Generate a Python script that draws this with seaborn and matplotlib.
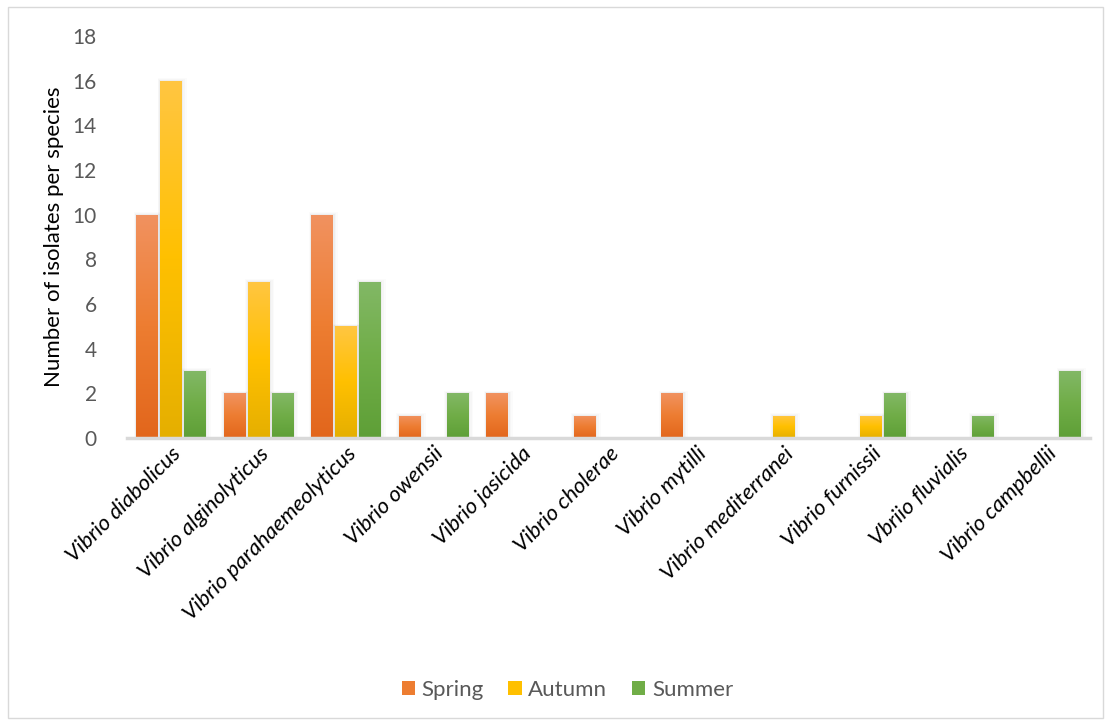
import numpy as np
import pandas as pd
import matplotlib
matplotlib.use("Agg")
import matplotlib.pyplot as plt
import seaborn as sns
from matplotlib.colors import LinearSegmentedColormap
from matplotlib.patches import Rectangle, Patch

species = ["Vibrio diabolicus", "Vibrio alginolyticus", "Vibrio parahaemeolyticus",
           "Vibrio owensii", "Vibrio jasicida", "Vibrio cholerae", "Vibrio mytilli",
           "Vibrio mediterranei", "Vibrio furnissii", "Vbriio fluvialis", "Vibrio campbellii"]
spring = [10, 2, 10, 1, 2, 1, 2, 0, 0, 0, 0]
autumn = [16, 7, 5, 0, 0, 0, 0, 1, 1, 0, 0]
summer = [3, 2, 7, 2, 0, 0, 0, 0, 2, 1, 3]
seasons = ["Spring", "Autumn", "Summer"]
yticks = [0, 2, 4, 6, 8, 10, 12, 14, 16, 18]

colors = {"Spring": ("#F19260", "#ED7D31", "#E2661C"),
          "Autumn": ("#FFC642", "#FFC000", "#E5AF00"),
          "Summer": ("#82B866", "#70AD47", "#5E9F37")}

df = pd.DataFrame({
    "species": species * 3,
    "season": ["Spring"] * 11 + ["Autumn"] * 11 + ["Summer"] * 11,
    "value": spring + autumn + summer,
})

sns.set_theme(style="white")
plt.rcParams['font.family'] = ['Lato', 'DejaVu Sans']

fig = plt.figure(figsize=(11.06, 7.22), dpi=100)
ax = fig.add_axes([0.115, 0.3934, 0.8705, 0.5566])

pal = [colors[s][1] for s in seasons]
sns.barplot(data=df, x="species", y="value", hue="season", hue_order=seasons,
            palette=pal, width=0.82, gap=0.1, ax=ax, legend=False,
            errorbar=None, saturation=1)

# gradient fill + soft shadow
bars = [p for p in ax.patches if isinstance(p, Rectangle)]
for i, p in enumerate(bars):
    s = seasons[i // len(species)]
    top, mid, bot = colors[s]
    h = p.get_height()
    if h <= 0:
        p.set_visible(False)
        continue
    x0, w = p.get_x(), p.get_width()
    for k, a in enumerate([0.06, 0.04, 0.03]):
        d = 0.02 * (k + 1)
        sh = Rectangle((x0 - d * 0.5, -0.1), w + d * 1.5, h + 0.1 + 0.04 * (k + 1),
                       facecolor="#808080", alpha=a, edgecolor="none", zorder=1,
                       clip_on=False)
        ax.add_patch(sh)
    cmap = LinearSegmentedColormap.from_list("g", [bot, mid, top])
    grad = np.linspace(0, 1, 256).reshape(-1, 1)
    im = ax.imshow(grad, cmap=cmap, aspect="auto", origin="lower",
                   extent=[x0, x0 + w, 0, h], zorder=2)
    im.set_clip_path(p)
    p.set_facecolor("none")
    p.set_edgecolor("none")
    p.set_zorder(2)

ax.set_xlim(-0.5, len(species) - 0.5)
ax.set_ylim(0, 18)
ax.set_yticks(yticks)
ax.set_yticklabels([str(t) for t in yticks], fontsize=15, color="#595959")
ax.tick_params(axis="y", length=0, pad=22)
ax.tick_params(axis="x", length=0, pad=4)
ax.set_xticks(range(len(species)))
ax.set_xticklabels(species, rotation=45, ha="right", rotation_mode="anchor",
                   fontsize=16, fontstyle="italic", color="#000000")
ax.set_xlabel("")
ax.set_ylabel("Number of isolates per species", fontsize=16, color="#000000", labelpad=6)
for side in ["top", "right", "left"]:
    ax.spines[side].set_visible(False)
ax.spines["bottom"].set_color("#D9D9D9")
ax.spines["bottom"].set_linewidth(2.5)
ax.spines["bottom"].set_zorder(3)
ax.grid(False)

handles = [Patch(facecolor=colors[s][1], edgecolor="none") for s in seasons]
fig.legend(handles, seasons, loc="center", bbox_to_anchor=(0.513, 0.045), ncol=3,
           frameon=False, fontsize=16, handlelength=0.6, handleheight=0.6,
           handletextpad=0.3, columnspacing=1.1, labelcolor="#595959")

fig.patches.append(Rectangle((0.007, 0.005), 0.99, 0.985, transform=fig.transFigure,
                             fill=False, edgecolor="#D9D9D9", linewidth=1))

fig.savefig("out.png", dpi=100)
